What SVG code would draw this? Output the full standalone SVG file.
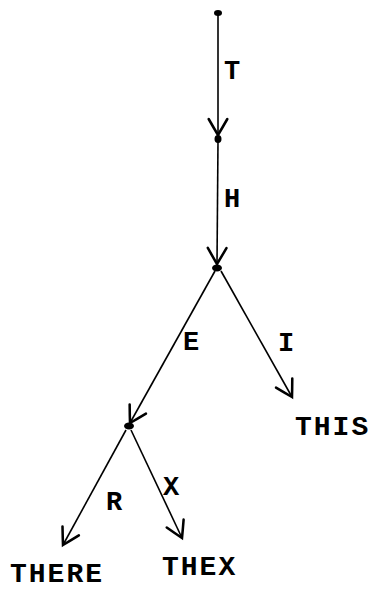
<svg xmlns="http://www.w3.org/2000/svg" width="371" height="591" viewBox="0 0 371 591">
<style>
.e{stroke:#000;stroke-width:1.6;fill:none;marker-end:url(#arr)}
.n{fill:#000}
text{font-family:"Liberation Mono","Courier New",monospace;font-size:27px;font-weight:bold;fill:#000}
.w{font-size:28px;letter-spacing:2px}
.l{text-anchor:middle}
</style>
<defs>
<marker id="arr" markerUnits="userSpaceOnUse" markerWidth="24" markerHeight="24" viewBox="-14 -9 16 18" refX="0" refY="0" orient="auto">
<path d="M -12 -7 Q -5 -3 0 0 Q -5 3 -12 7" fill="none" stroke="#000" stroke-width="1.9" stroke-linecap="round"/>
</marker>
</defs>
<rect width="371" height="591" fill="#fff"/>
<g id="connectors">
<path class="e" d="M218 15 L218 135"/>
<path class="e" d="M218 141 L217 264"/>
<path class="e" d="M215 271 L130 423"/>
<path class="e" d="M221 271 L292 397"/>
<path class="e" d="M126 430 L63 545"/>
<path class="e" d="M131 430 L182 538"/>
</g>
<g id="edge-labels">
<text class="l" x="232" y="79">T</text>
<text class="l" x="232" y="207">H</text>
<text class="l" x="191" y="350">E</text>
<text class="l" x="286" y="351">I</text>
<text class="l" x="114" y="510">R</text>
<text class="l" x="171" y="495">X</text>
</g>
<g id="root"><ellipse class="n" cx="218" cy="13" rx="4" ry="3"/></g>
<g id="node-T"><ellipse class="n" cx="218" cy="139" rx="3.5" ry="4"/></g>
<g id="node-TH"><ellipse class="n" cx="217" cy="268" rx="5" ry="3.5"/></g>
<g id="node-THE"><ellipse class="n" cx="129" cy="426" rx="5" ry="3.5"/></g>
<g id="node-THIS"><text class="w" x="295" y="435">THIS</text></g>
<g id="node-THERE"><text class="w" x="10" y="582">THERE</text></g>
<g id="node-THEX"><text class="w" x="162" y="575">THEX</text></g>
</svg>
